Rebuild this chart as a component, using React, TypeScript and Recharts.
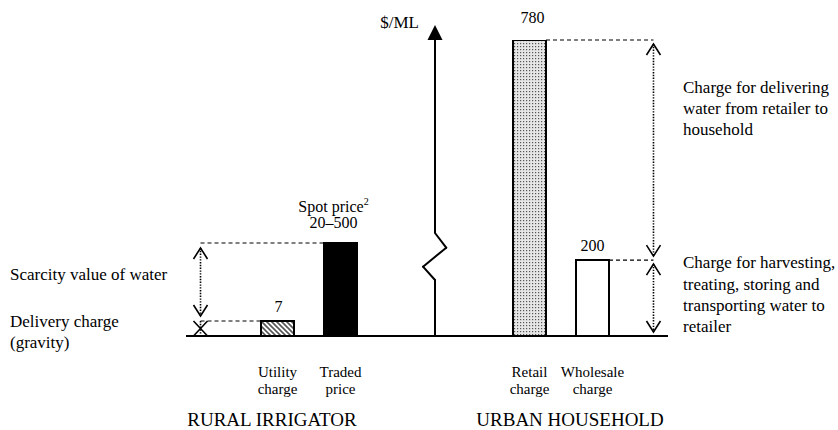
import React from "react";
import {
  ComposedChart,
  Bar,
  Cell,
  LabelList,
  XAxis,
  YAxis,
  ReferenceLine,
} from "recharts";

// categories along the baseline (two spacer slots hold the broken $/ML axis)
const CATEGORY_KEYS = ["utility", "traded", "gap1", "gap2", "retail", "wholesale"];
const TICK_LINES = [
  ["Utility", "charge"],
  ["Traded", "price"],
  [],
  [],
  ["Retail", "charge"],
  ["Wholesale", "charge"],
];

// $/ML values
const RURAL_VALUES = [7, 500, null, null, null, null];
const URBAN_VALUES = [null, null, null, null, 780, 200];
const VALUE_LABELS = ["7", "20–500", "", "", "780", "200"];
const CAPTIONS = ["", "Spot price", "", "", "", ""];

const data = CATEGORY_KEYS.map((key, i) => ({
  key,
  slot: i,
  rural: RURAL_VALUES[i],
  urban: URBAN_VALUES[i],
  ruralLabel: RURAL_VALUES[i] != null ? VALUE_LABELS[i] : "",
  urbanLabel: URBAN_VALUES[i] != null ? VALUE_LABELS[i] : "",
}));

// styles
const FONT = "'Liberation Serif', 'Times New Roman', serif";
const BAR_FILLS = ["url(#hatch)", "#000", "none", "none", "url(#dots)", "#fff"];
const LABEL_GAP = [9, 15, 0, 0, 17, 9];
const LABEL_NUDGE = [1, -7, 0, 0, 3, 0];

// layout
const W = 838;
const H = 430;
const PLOT_LEFT = 186;
const PLOT_RIGHT = 668;
const PLOT_TOP = 40;
const PLOT_BOTTOM = 336;
const PAD_LEFT = 60;
const PAD_RIGHT = 44;
const BAR_SIZE = 33;
const BAND = (PLOT_RIGHT - PLOT_LEFT - PAD_LEFT - PAD_RIGHT) / CATEGORY_KEYS.length;
// hidden helper axis in "slot" units: slot i is the centre of category i
const SLOT_DOMAIN = [-0.5 - PAD_LEFT / BAND, CATEGORY_KEYS.length - 0.5 + PAD_RIGHT / BAND];
const HALF = BAR_SIZE / 2 / BAND;

// rural side is drawn on a compressed (log) scale, the urban side is linear
const RURAL_DOMAIN = [3.08, 3.345e7];
const URBAN_DOMAIN = [0, 780];

const LEFT_ARROW_X = -1.222;
const RIGHT_ARROW_X = 5.968;
const AXIS_X = 2.5;

const DoubleArrow = (inset: number) => (props: any) => {
  const { x1, y1, y2 } = props;
  const top = Math.min(y1, y2) + inset;
  const bot = Math.max(y1, y2) - inset;
  const line = (
    <line x1={x1} y1={top} x2={x1} y2={bot} stroke="#000" strokeWidth={1.6} strokeDasharray="1.4 1.4" />
  );
  if (bot - top < 22) {
    // too short for two heads: they collapse into a cross
    return (
      <g>
        {line}
        <line x1={x1 - 7} y1={top} x2={x1 + 7} y2={bot} stroke="#000" strokeWidth={1.6} />
        <line x1={x1 + 7} y1={top} x2={x1 - 7} y2={bot} stroke="#000" strokeWidth={1.6} />
      </g>
    );
  }
  return (
    <g>
      {line}
      <polyline points={`${x1 - 7},${top + 11} ${x1},${top} ${x1 + 7},${top + 11}`} fill="none" stroke="#000" strokeWidth={1.6} />
      <polyline points={`${x1 - 7},${bot - 11} ${x1},${bot} ${x1 + 7},${bot - 11}`} fill="none" stroke="#000" strokeWidth={1.6} />
    </g>
  );
};

const AxisArrow = (props: any) => {
  const { x1, y1, x2, y2 } = props;
  return (
    <g>
      <line x1={x1} y1={y1} x2={x2} y2={y2 + 14} stroke="#000" strokeWidth={2} />
      <polygon points={`${x2 - 7.5},${y2 + 15} ${x2},${y2} ${x2 + 7.5},${y2 + 15}`} fill="#000" />
    </g>
  );
};

const CategoryTick = (props: any) => {
  const { x, y, payload } = props;
  const lines = TICK_LINES[CATEGORY_KEYS.indexOf(payload.value)] || [];
  return (
    <g>
      {lines.map((l, i) => (
        <text key={i} x={x} y={y + 41 + i * 17} textAnchor="middle" fontFamily={FONT} fontSize={15} fill="#000">
          {l}
        </text>
      ))}
    </g>
  );
};

const renderValueLabel = (props: any) => {
  const { x, y, width, value } = props;
  if (!value) return null;
  const i = VALUE_LABELS.indexOf(value);
  const cx = x + width / 2 + LABEL_NUDGE[i];
  const by = y - LABEL_GAP[i];
  return (
    <g>
      {CAPTIONS[i] ? (
        <text x={cx} y={by - 16} textAnchor="middle" fontFamily={FONT} fontSize={16} fill="#000">
          {CAPTIONS[i]}
          <tspan dy={-7} fontSize={10}>2</tspan>
        </text>
      ) : null}
      <text x={cx} y={by} textAnchor="middle" fontFamily={FONT} fontSize={16} fill="#000">
        {value}
      </text>
    </g>
  );
};

const dashed = { stroke: "#000", strokeWidth: 1.2, strokeDasharray: "4 3" };
const axisSeg = { stroke: "#000", strokeWidth: 2, strokeLinecap: "round" as const };

export default function App() {
  const note = { fontFamily: FONT, fontSize: 17, fill: "#000" };
  return (
    <div style={{ position: "absolute", left: 0, top: 0, background: "#fff" }}>
      <ComposedChart
        width={W}
        height={H}
        data={data}
        barGap={-BAR_SIZE}
        margin={{ top: PLOT_TOP, right: W - PLOT_RIGHT, bottom: H - PLOT_BOTTOM - 60, left: PLOT_LEFT }}
      >
        <defs>
          <pattern id="hatch" patternUnits="userSpaceOnUse" width="5" height="5">
            <rect width="5" height="5" fill="#fff" />
            <path d="M-1,-1 L6,6 M-1,4 L1,6 M4,-1 L6,1" stroke="#555" strokeWidth="1.6" />
          </pattern>
          <pattern id="dots" patternUnits="userSpaceOnUse" width="3" height="3">
            <rect width="3" height="3" fill="#e6e6e6" />
            <rect x="1" y="1" width="1.2" height="1.2" fill="#555" />
          </pattern>
        </defs>
        <XAxis
          xAxisId="cat"
          dataKey="key"
          type="category"
          height={60}
          padding={{ left: PAD_LEFT, right: PAD_RIGHT }}
          axisLine={{ stroke: "#000", strokeWidth: 2 }}
          tickLine={false}
          tickSize={0}
          tickMargin={0}
          interval={0}
          tick={<CategoryTick />}
        />
        <XAxis xAxisId="slot" dataKey="slot" type="number" domain={SLOT_DOMAIN} hide allowDataOverflow />
        <YAxis yAxisId="rural" type="number" scale="log" domain={RURAL_DOMAIN} hide allowDataOverflow />
        <YAxis yAxisId="urban" type="number" domain={URBAN_DOMAIN} hide allowDataOverflow />

        <Bar xAxisId="cat" yAxisId="rural" dataKey="rural" barSize={BAR_SIZE} stroke="#000" strokeWidth={2} isAnimationActive={false}>
          {data.map((d, i) => (
            <Cell key={d.key} fill={BAR_FILLS[i]} />
          ))}
          <LabelList dataKey="ruralLabel" content={renderValueLabel} />
        </Bar>
        <Bar xAxisId="cat" yAxisId="urban" dataKey="urban" barSize={BAR_SIZE} stroke="#000" strokeWidth={2} isAnimationActive={false}>
          {data.map((d, i) => (
            <Cell key={d.key} fill={BAR_FILLS[i]} />
          ))}
          <LabelList dataKey="urbanLabel" content={renderValueLabel} />
        </Bar>

        {/* rural guides */}
        <ReferenceLine xAxisId="slot" yAxisId="rural" ifOverflow="visible" {...dashed}
          segment={[{ x: LEFT_ARROW_X, y: RURAL_VALUES[1] }, { x: 1 - HALF, y: RURAL_VALUES[1] }]} />
        <ReferenceLine xAxisId="slot" yAxisId="rural" ifOverflow="visible" {...dashed}
          segment={[{ x: LEFT_ARROW_X, y: RURAL_VALUES[0] }, { x: 0 - HALF, y: RURAL_VALUES[0] }]} />
        <ReferenceLine xAxisId="slot" yAxisId="rural" ifOverflow="visible" shape={DoubleArrow(5)}
          segment={[{ x: LEFT_ARROW_X, y: RURAL_VALUES[1] }, { x: LEFT_ARROW_X, y: RURAL_VALUES[0] }]} />
        <ReferenceLine xAxisId="slot" yAxisId="rural" ifOverflow="visible" shape={DoubleArrow(0)}
          segment={[{ x: LEFT_ARROW_X, y: RURAL_VALUES[0] }, { x: LEFT_ARROW_X, y: RURAL_DOMAIN[0] }]} />

        {/* urban guides */}
        <ReferenceLine xAxisId="slot" yAxisId="urban" ifOverflow="visible" {...dashed}
          segment={[{ x: 4 + HALF, y: URBAN_VALUES[4] }, { x: RIGHT_ARROW_X, y: URBAN_VALUES[4] }]} />
        <ReferenceLine xAxisId="slot" yAxisId="urban" ifOverflow="visible" {...dashed}
          segment={[{ x: 5 + HALF, y: URBAN_VALUES[5] }, { x: RIGHT_ARROW_X, y: URBAN_VALUES[5] }]} />
        <ReferenceLine xAxisId="slot" yAxisId="urban" ifOverflow="visible" shape={DoubleArrow(4)}
          segment={[{ x: RIGHT_ARROW_X, y: URBAN_VALUES[4] }, { x: RIGHT_ARROW_X, y: URBAN_VALUES[5] }]} />
        <ReferenceLine xAxisId="slot" yAxisId="urban" ifOverflow="visible" shape={DoubleArrow(4)}
          segment={[{ x: RIGHT_ARROW_X, y: URBAN_VALUES[5] }, { x: RIGHT_ARROW_X, y: 0 }]} />

        {/* broken $/ML axis */}
        <ReferenceLine xAxisId="slot" yAxisId="urban" ifOverflow="visible" {...axisSeg}
          segment={[{ x: AXIS_X, y: 0 }, { x: AXIS_X, y: 147.6 }]} />
        <ReferenceLine xAxisId="slot" yAxisId="urban" ifOverflow="visible" {...axisSeg}
          segment={[{ x: AXIS_X, y: 147.6 }, { x: AXIS_X - 0.19, y: 182.7 }]} />
        <ReferenceLine xAxisId="slot" yAxisId="urban" ifOverflow="visible" {...axisSeg}
          segment={[{ x: AXIS_X - 0.19, y: 182.7 }, { x: AXIS_X + 0.178, y: 232.7 }]} />
        <ReferenceLine xAxisId="slot" yAxisId="urban" ifOverflow="visible" {...axisSeg}
          segment={[{ x: AXIS_X + 0.178, y: 232.7 }, { x: AXIS_X, y: 271.4 }]} />
        <ReferenceLine xAxisId="slot" yAxisId="urban" ifOverflow="visible" shape={AxisArrow}
          segment={[{ x: AXIS_X, y: 271.4 }, { x: AXIS_X, y: 819.5 }]} />

        <text x={419} y={28} textAnchor="end" fontFamily={FONT} fontSize={17} fill="#000">$/ML</text>

        <text x={10} y={280} {...note}>Scarcity value of water</text>
        <text x={10} y={327} {...note}>Delivery charge</text>
        <text x={10} y={348} {...note}>(gravity)</text>

        <text x={683} y={93} {...note}>Charge for delivering</text>
        <text x={683} y={114} {...note}>water from retailer to</text>
        <text x={683} y={135} {...note}>household</text>

        <text x={683} y={268} {...note}>Charge for harvesting,</text>
        <text x={683} y={290} {...note}>treating, storing and</text>
        <text x={683} y={311} {...note}>transporting water to</text>
        <text x={683} y={332} {...note}>retailer</text>

        <text x={272} y={426} textAnchor="middle" fontFamily={FONT} fontSize={19} fill="#000">RURAL IRRIGATOR</text>
        <text x={570} y={426} textAnchor="middle" fontFamily={FONT} fontSize={19} fill="#000">URBAN HOUSEHOLD</text>
      </ComposedChart>
    </div>
  );
}
